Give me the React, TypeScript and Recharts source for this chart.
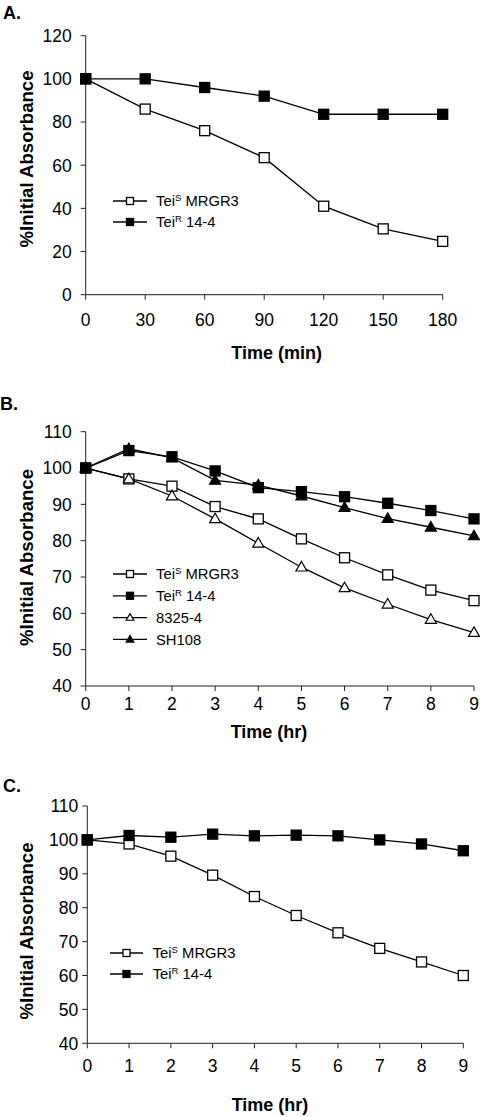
import React from 'react';
import { LineChart, Line, XAxis, YAxis, Legend } from 'recharts';

const FONT = '"Liberation Sans", Arial, Helvetica, sans-serif';

// Panel A
const timeMin = [0, 30, 60, 90, 120, 150, 180];
const aMRGR3 = [100, 86, 76, 63.5, 41, 30.5, 24.7];
const a144 = [100, 100, 96, 92, 83.6, 83.6, 83.6];
const aXTicks = [0, 30, 60, 90, 120, 150, 180];
const aYTicks = [0, 20, 40, 60, 80, 100, 120];

// Panel B
const timeHrB = [0, 1, 2, 3, 4, 5, 6, 7, 8, 9];
const bMRGR3 = [100, 97, 95, 89.4, 86, 80.5, 75.3, 70.6, 66.4, 63.5];
const b144 = [100, 104.8, 103.1, 99.2, 94.6, 93.5, 92.1, 90.3, 88.3, 86];
const b8325 = [100, 97, 92.3, 86, 79.3, 72.7, 67, 62.5, 58.3, 54.7];
const bSH108 = [100, 105.3, 102.8, 96.6, 95.3, 92.3, 89.1, 86.1, 83.7, 81.3];

// Panel C
const timeHrC = [0, 1, 2, 3, 4, 5, 6, 7, 8, 9];
const cMRGR3 = [100, 98.8, 95.2, 89.6, 83.3, 77.7, 72.6, 68, 64, 60];
const c144 = [100, 101.3, 100.8, 101.7, 101.2, 101.4, 101.2, 100, 98.8, 96.8];

const hrTicks = [0, 1, 2, 3, 4, 5, 6, 7, 8, 9];
const bcYTicks = [40, 50, 60, 70, 80, 90, 100, 110];

const dataA = timeMin.map((t, i) => ({ t, s: aMRGR3[i], r: a144[i] }));
const dataB = timeHrB.map((t, i) => ({ t, s: bMRGR3[i], r: b144[i], w: b8325[i], h: bSH108[i] }));
const dataC = timeHrC.map((t, i) => ({ t, s: cMRGR3[i], r: c144[i] }));

type Kind = 'sqOpen' | 'sqFill' | 'triOpen' | 'triFill';

function Marker({ kind, cx, cy, s }: { kind: Kind; cx: number; cy: number; s: number }) {
  if (kind === 'sqOpen' || kind === 'sqFill') {
    return (
      <rect
        x={cx - s / 2}
        y={cy - s / 2}
        width={s}
        height={s}
        fill={kind === 'sqFill' ? '#000' : '#fff'}
        stroke="#000"
        strokeWidth={1.3}
      />
    );
  }
  const h = s * 0.95;
  const pts = `${cx},${cy - h * 0.6} ${cx + s * 0.55},${cy + h * 0.4} ${cx - s * 0.55},${cy + h * 0.4}`;
  return <polygon points={pts} fill={kind === 'triFill' ? '#000' : '#fff'} stroke="#000" strokeWidth={1.2} />;
}

const dotFor = (kind: Kind) => (props: any) => {
  const { cx, cy, index } = props;
  if (cx == null || cy == null) return <g key={`d${index}`} />;
  return (
    <g key={`d${kind}${index}`}>
      <Marker kind={kind} cx={cx} cy={cy} s={10} />
    </g>
  );
};

type LegendItem = { kind: Kind; main: string; sup?: string; rest?: string };

const legendA: LegendItem[] = [
  { kind: 'sqOpen', main: 'Tei', sup: 'S', rest: ' MRGR3' },
  { kind: 'sqFill', main: 'Tei', sup: 'R', rest: ' 14-4' },
];
const legendB: LegendItem[] = [
  { kind: 'sqOpen', main: 'Tei', sup: 'S', rest: ' MRGR3' },
  { kind: 'sqFill', main: 'Tei', sup: 'R', rest: ' 14-4' },
  { kind: 'triOpen', main: '8325-4' },
  { kind: 'triFill', main: 'SH108' },
];

const makeLegend = (items: LegendItem[], rowH: number, lineLen: number, textX: number) => () => (
  <svg width={220} height={items.length * rowH + 6} style={{ overflow: 'visible', display: 'block' }}>
    {items.map((it, i) => {
      const y = 10 + i * rowH;
      return (
        <g key={i}>
          <line x1={0} y1={y} x2={lineLen} y2={y} stroke="#000" strokeWidth={1.3} />
          <Marker kind={it.kind} cx={lineLen / 2} cy={y} s={7} />
          <text x={textX} y={y + 5.3} fontFamily={FONT} fontSize={14.8} fill="#000">
            {it.main}
            {it.sup ? (
              <tspan fontSize={9.5} dy={-5}>
                {it.sup}
              </tspan>
            ) : null}
            {it.rest ? <tspan dy={it.sup ? 5 : 0}>{it.rest}</tspan> : null}
          </text>
        </g>
      );
    })}
  </svg>
);

const axisLine = { stroke: '#222', strokeWidth: 1 };

const XTick = (props: any) => {
  const { x, y, payload } = props;
  return (
    <text x={x} y={y} dy="0.71em" textAnchor="middle" fontFamily={FONT} fontSize={17.5} fill="#000">
      {payload.value}
    </text>
  );
};
const YTick = (props: any) => {
  const { x, y, payload } = props;
  return (
    <text x={x} y={y} dy="0.36em" textAnchor="end" fontFamily={FONT} fontSize={17.5} fill="#000">
      {payload.value}
    </text>
  );
};

function Panel(props: {
  top: number;
  height: number;
  margin: any;
  data: any[];
  xDomain: [number, number];
  xTicks: number[];
  yDomain: [number, number];
  yTicks: number[];
  xTickMargin: number;
  yTickMargin: number;
  series: { key: string; kind: Kind; name: string }[];
  legend: () => React.ReactElement;
  legendPos: { left: number; top: number };
}) {
  return (
    <div style={{ position: 'absolute', left: 0, top: props.top, width: 480, height: props.height }}>
      <LineChart width={480} height={props.height} data={props.data} margin={props.margin} style={{ overflow: 'visible' }}>
        <XAxis
          dataKey="t"
          type="number"
          domain={props.xDomain}
          ticks={props.xTicks}
          interval={0}
          height={30}
          tick={<XTick />}
          tickSize={5}
          tickMargin={props.xTickMargin}
          axisLine={axisLine}
          tickLine={axisLine}
        />
        <YAxis
          type="number"
          domain={props.yDomain}
          ticks={props.yTicks}
          interval={0}
          width={60}
          tick={<YTick />}
          tickSize={5}
          tickMargin={props.yTickMargin}
          axisLine={axisLine}
          tickLine={axisLine}
        />
        <Legend
          layout="horizontal"
          verticalAlign="middle"
          align="center"
          content={props.legend}
          wrapperStyle={{ position: 'absolute', left: props.legendPos.left, top: props.legendPos.top, width: 220, height: 100 }}
        />
        {props.series.map((s) => (
          <Line
            key={s.key}
            dataKey={s.key}
            name={s.name}
            type="linear"
            stroke="#000"
            strokeWidth={1.3}
            dot={dotFor(s.kind)}
            activeDot={false}
            isAnimationActive={false}
          />
        ))}
      </LineChart>
    </div>
  );
}

function Overlay() {
  const bold = { fontFamily: FONT, fontWeight: 700, fill: '#000' } as const;
  const ylab = (x: number, y: number) => (
    <text x={x} y={y} transform={`rotate(-90 ${x} ${y})`} textAnchor="middle" fontSize={18.6} {...bold}>
      %Initial Absorbance
    </text>
  );
  return (
    <svg width={480} height={1117} style={{ position: 'absolute', left: 0, top: 0, pointerEvents: 'none' }}>
      <text x={3} y={18.5} fontSize={18} {...bold}>A.</text>
      {ylab(33, 159)}
      <text x={276.7} y={359} textAnchor="middle" fontSize={18} {...bold}>Time (min)</text>

      <text x={0} y={410} fontSize={18} {...bold}>B.</text>
      {ylab(33, 557.5)}
      <text x={269} y={738} textAnchor="middle" fontSize={18} {...bold}>Time (hr)</text>

      <text x={3} y={792} fontSize={18} {...bold}>C.</text>
      {ylab(33.3, 931)}
      <text x={270} y={1111} textAnchor="middle" fontSize={18} {...bold}>Time (hr)</text>
    </svg>
  );
}

export default function App() {
  return (
    <div style={{ position: 'absolute', left: 0, top: 0, width: 480, height: 1117, background: '#fff', overflow: 'hidden' }}>
      <Panel
        top={0}
        height={370}
        margin={{ top: 35.7, right: 37.3, left: 25.7, bottom: 45.3 }}
        data={dataA}
        xDomain={[0, 180]}
        xTicks={aXTicks}
        yDomain={[0, 120]}
        yTicks={aYTicks}
        xTickMargin={13.6}
        yTickMargin={9}
        series={[
          { key: 's', kind: 'sqOpen', name: 'TeiS MRGR3' },
          { key: 'r', kind: 'sqFill', name: 'TeiR 14-4' },
        ]}
        legend={makeLegend(legendA, 21, 34, 43)}
        legendPos={{ left: 113, top: 191 }}
      />
      <Panel
        top={380}
        height={360}
        margin={{ top: 51.7, right: 6, left: 25.7, bottom: 24 }}
        data={dataB}
        xDomain={[0, 9]}
        xTicks={hrTicks}
        yDomain={[40, 110]}
        yTicks={bcYTicks}
        xTickMargin={7}
        yTickMargin={9}
        series={[
          { key: 's', kind: 'sqOpen', name: 'TeiS MRGR3' },
          { key: 'w', kind: 'triOpen', name: '8325-4' },
          { key: 'h', kind: 'triFill', name: 'SH108' },
          { key: 'r', kind: 'sqFill', name: 'TeiR 14-4' },
        ]}
        legend={makeLegend(legendB, 21.8, 34, 43)}
        legendPos={{ left: 113, top: 183.7 }}
      />
      <Panel
        top={760}
        height={357}
        margin={{ top: 46, right: 16.7, left: 27.3, bottom: 43.7 }}
        data={dataC}
        xDomain={[0, 9]}
        xTicks={hrTicks}
        yDomain={[40, 110]}
        yTicks={bcYTicks}
        xTickMargin={11.7}
        yTickMargin={4}
        series={[
          { key: 's', kind: 'sqOpen', name: 'TeiS MRGR3' },
          { key: 'r', kind: 'sqFill', name: 'TeiR 14-4' },
        ]}
        legend={makeLegend(legendA, 21, 33, 42.7)}
        legendPos={{ left: 110, top: 183.3 }}
      />
      <Overlay />
    </div>
  );
}
